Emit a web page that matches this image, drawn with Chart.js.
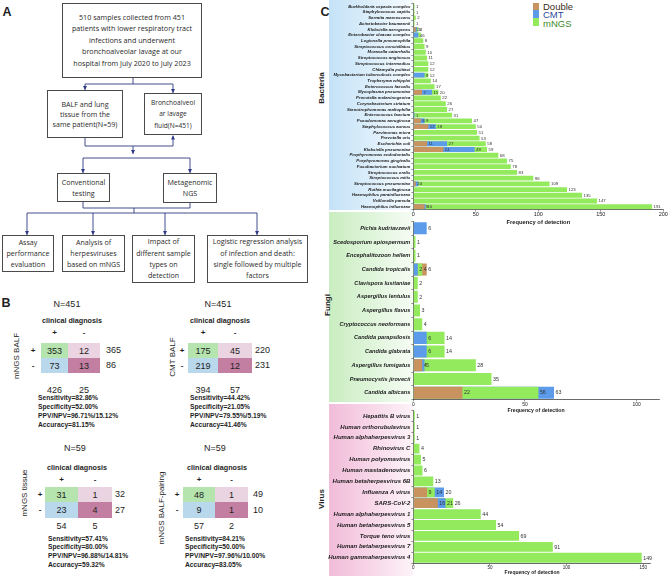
<!DOCTYPE html>
<html><head><meta charset="utf-8">
<script src="https://cdn.jsdelivr.net/npm/chart.js@4.4.1/dist/chart.umd.min.js"></script>
<style>
html,body{margin:0;padding:0;background:#fff}
body{width:669px;height:576px;position:relative;overflow:hidden;font-family:"Liberation Sans",Arial,sans-serif;color:#1e1e1e}
.t{position:absolute;white-space:nowrap;transform:translate(-50%,-50%);line-height:1}
.l{position:absolute;white-space:nowrap;line-height:1}
.box{position:absolute;box-sizing:border-box;border:1px solid #4a4a4a;display:flex;align-items:center;justify-content:center;text-align:center;font-family:"Open Sans",sans-serif;color:#2a2a2a;background:#fff}
.cell{position:absolute;display:flex;align-items:center;justify-content:center;font-size:9px;color:#222}
.grad{position:absolute}
canvas{position:absolute}
.lg{position:absolute;width:6px;height:7.6px}
.lgt{position:absolute;font-size:9.5px;line-height:1;white-space:nowrap}
</style></head><body>

<div class="grad" style="left:329px;top:0;width:84px;height:210px;background:linear-gradient(to right,#c4e2f7,#e4f2fc 65%,#f8fcff)"></div>
<div class="grad" style="left:329px;top:212px;width:84px;height:190px;background:linear-gradient(to right,#c9edc0,#e6f7e2 65%,#f6fcf4)"></div>
<div class="grad" style="left:329px;top:404px;width:84px;height:172px;background:linear-gradient(to right,#f1bcd9,#f9dfed 65%,#fdf3f8)"></div>

<svg width="335" height="300" style="position:absolute;left:0;top:0">
<defs><marker id="ar" markerWidth="4" markerHeight="4" refX="4" refY="2" orient="auto" markerUnits="userSpaceOnUse"><path d="M0,0 L4,2 L0,4 z" fill="#2f3b85"/></marker></defs>
<g stroke="#2f3b85" stroke-width="0.9" fill="none">
<path d="M133,78 V84 M85,84 H173"/>
<path d="M85,84 V90" marker-end="url(#ar)"/>
<path d="M173,84 V93" marker-end="url(#ar)"/>
<path d="M85,138 V146 H173"/>
<path d="M173,146 V135.5" marker-end="url(#ar)"/>
<path d="M133,146 V154" marker-end="url(#ar)"/>
<path d="M83,158 H190"/>
<path d="M83,158 V173" marker-end="url(#ar)"/>
<path d="M190,158 V173" marker-end="url(#ar)"/>
<path d="M83,202 V208 H190 M190,203 V208 M134,208 V213 M27,213 H257"/>
<path d="M27,213 V235" marker-end="url(#ar)"/>
<path d="M93,213 V235" marker-end="url(#ar)"/>
<path d="M165,213 V235" marker-end="url(#ar)"/>
<path d="M257,213 V235" marker-end="url(#ar)"/>
</g></svg>

<div class="t" style="left:7px;top:12px;font-weight:bold;font-size:12.5px">A</div>
<div class="t" style="left:6px;top:303px;font-weight:bold;font-size:12.5px">B</div>
<div class="t" style="left:325px;top:12px;font-weight:bold;font-size:12.5px">C</div>

<div class="t" style="left:322px;top:88px;font-weight:bold;font-size:8px;transform:translate(-50%,-50%) rotate(-90deg)">Bacteria</div>
<div class="t" style="left:328px;top:305px;font-weight:bold;font-size:8px;transform:translate(-50%,-50%) rotate(-90deg)">Fungi</div>
<div class="t" style="left:322px;top:499px;font-weight:bold;font-size:8px;transform:translate(-50%,-50%) rotate(-90deg)">Virus</div>

<div class="lg" style="left:533px;top:2.6px;background:#c8935f"></div>
<div class="lg" style="left:533px;top:10.4px;background:#5b9bea"></div>
<div class="lg" style="left:533px;top:18.4px;background:#93ea5c"></div>
<div class="lgt" style="left:543px;top:1.8px;color:#3a2e22">Double</div>
<div class="lgt" style="left:543px;top:10px;color:#2b4a9c">CMT</div>
<div class="lgt" style="left:543px;top:18.6px;color:#3c8a2e">mNGS</div>

<canvas id="cBac" width="351" height="226" style="left:318px;top:0px;width:351px;height:226px"></canvas>
<canvas id="cFun" width="351" height="202" style="left:318px;top:212px;width:351px;height:202px"></canvas>
<canvas id="cVir" width="351" height="171" style="left:318px;top:405px;width:351px;height:171px"></canvas>

<script>
// ---------- Panel C data ----------
const bacteriaLabels = ['Burkholderia cepacia complex','Staphylococcus capitis','Serratia marcescens','Acinetobacter baumannii','Klebsiella aerogenes','Enterobacter cloacae complex','Legionella pneumophila','Streptococcus constellatus','Moraxella catarrhalis','Streptococcus anginosus','Streptococcus intermedius','Chlamydia psittaci','Mycobacterium tuberculosis complex','Tropheryma whipplei','Enterococcus faecalis','Mycoplasma pneumoniae','Prevotella melaninogenica','Corynebacterium striatum','Stenotrophomonas maltophilia','Enterococcus faecium','Pseudomonas aeruginosa','Staphylococcus aureus','Parvimonas micra','Prevotella oris','Escherichia coli','Klebsiella pneumoniae','Porphyromonas endodontalis','Porphyromonas gingivalis','Fusobacterium nucleatum','Streptococcus oralis','Streptococcus mitis','Streptococcus pneumoniae','Rothia mucilaginosa','Haemophilus parainfluenzae','Veillonella parvula','Haemophilus influenzae'];
const bacteriaDouble = [0,0,0,0,2,0,0,0,0,0,0,0,0,0,0,7,0,0,0,0,6,12,0,0,11,24,0,0,0,0,0,2,0,0,0,9];
const bacteriaCMT    = [0,0,0,0,3,4,0,0,0,0,0,0,9,0,0,15,0,0,0,1,9,18,0,0,27,49,0,0,0,0,0,4,0,0,0,10];
const bacteriaMNGS   = [1,1,2,1,4,6,8,9,10,11,12,12,12,14,17,20,22,26,27,31,47,50,51,53,58,59,68,75,78,83,96,109,123,135,147,191];

const fungiLabels = ['Pichia kudriavzevii','Scedosporium apiospermum','Encephalitozoon hellem','Candida tropicalis','Clavispora lusitaniae','Aspergillus lentulus','Aspergillus flavus','Cryptococcus neoformans','Candida parapsilosis','Candida glabrata','Aspergillus fumigatus','Pneumocystis jirovecii','Candida albicans'];
const fungiDouble = [0,0,0,6,0,0,0,0,0,0,4,0,22];
const fungiCMT    = [6,0,0,2,0,0,0,0,6,6,5,0,63];
const fungiMNGS   = [0,1,1,4,2,2,3,4,14,14,28,35,56];

const virusLabels = ['Hepatitis B virus','Human orthorubulavirus','Human alphaherpesvirus 3','Rhinovirus C','Human polyomavirus','Human mastadenovirus','Human betaherpesvirus 6B','Influenza A virus','SARS-CoV-2','Human alphaherpesvirus 1','Human betaherpesvirus 5','Torque teno virus','Human betaherpesvirus 7','Human gammaherpesvirus 4'];
const virusDouble = [0,0,0,0,0,0,0,9,16,0,0,0,0,0];
const virusCMT    = [0,0,0,0,0,0,0,20,21,0,0,0,0,0];
const virusMNGS   = [1,1,1,4,5,6,13,14,26,44,54,69,91,149];

const bacteriaTicks = [0,50,100,150,200];
const fungiTicks = [0,50,100];
const virusTicks = [0,50,100,150];

// ---------- Panel A / B data ----------
const matrixTitles = ['N=451','N=451','N=59','N=59'];
const matrixRowTitles = ['mNGS BALF','CMT BALF','mNGS tissue','mNGS BALF-pairing'];
const matrixCells = [[353,12,73,13],[175,45,219,12],[31,1,23,4],[48,1,9,1]];
const matrixRowTotals = [[365,86],[220,231],[32,27],[49,10]];
const matrixColTotals = [[426,25],[394,57],[54,5],[57,2]];
const matrixStats = [
 ['Sensitivity=82.86%','Specificity=52.00%','PPV/NPV=96.71%/15.12%','Accuracy=81.15%'],
 ['Sensitivity=44.42%','Specificity=21.05%','PPV/NPV=79.55%/5.19%','Accuracy=41.46%'],
 ['Sensitivity=57.41%','Specificity=80.00%','PPV/NPV=96.88%/14.81%','Accuracy=59.32%'],
 ['Sensitivity=84.21%','Specificity=50.00%','PPV/NPV=97.96%/10.00%','Accuracy=83.05%']];

const flowBoxes = [
 {x:62,y:3,w:140,h:75,fs:7.2,lh:11.4,t:'510 samples collected from 451<br>patients with lower respiratory tract<br>infections and underwent<br>bronchoalveolar lavage at our<br>hospital from July 2020 to July 2023'},
 {x:47,y:90,w:76,h:48,fs:7.1,lh:10.2,t:'BALF and lung<br>tissue from the<br>same patient(N=59)'},
 {x:144,y:93,w:58,h:42,fs:6.6,lh:11.5,t:'Bronchoalveol<br>ar lavage<br>fluid(N=451)'},
 {x:57,y:173,w:53,h:29,fs:7.1,lh:11,t:'Conventional<br>testing'},
 {x:163,y:173,w:54,h:30,fs:7.1,lh:11,t:'Metagenomic<br>NGS'},
 {x:2,y:235,w:52,h:37,fs:7.1,lh:11,t:'Assay<br>performance<br>evaluation'},
 {x:62,y:235,w:63,h:37,fs:7.1,lh:11,t:'Analysis of<br>herpesviruses<br>based on mNGS'},
 {x:132,y:235,w:63,h:48,fs:7.1,lh:11.3,t:'Impact of<br>different sample<br>types on<br>detection'},
 {x:207,y:235,w:101,h:48,fs:7.1,lh:11.3,t:'Logistic regression analysis<br>of infection and death:<br>single followed by multiple<br>factors'}
];

function el(cls, style, html){const d=document.createElement('div');d.className=cls;d.setAttribute('style',style);d.innerHTML=html;document.body.appendChild(d);return d;}

flowBoxes.forEach(b=>el('box',`left:${b.x}px;top:${b.y}px;width:${b.w}px;height:${b.h}px;font-size:${b.fs}px;line-height:${b.lh}px`,b.t));

const mGeom = [
 {tx:67,ty:304,cdx:72,cdy:321,chy:333,cx:[41,68,100],ry:[343,358,373],rl:33,tot:106,cty:390,sx:38,sy:398,sd:9.3,vx:17,vy:356},
 {tx:218,ty:304,cdx:220,cdy:321,chy:333,cx:[188,218,252],ry:[343,358,373],rl:182,tot:255,cty:390,sx:190,sy:398,sd:9.3,vx:173,vy:357},
 {tx:75,ty:448,cdx:77,cdy:468,chy:480,cx:[45,78,112],ry:[487,502,518],rl:40,tot:115,cty:526,sx:48,sy:539,sd:8.8,vx:25,vy:493},
 {tx:215,ty:448,cdx:217,cdy:468,chy:480,cx:[183,215,248],ry:[487,502,518],rl:177,tot:253,cty:526,sx:185,sy:539,sd:8.8,vx:162,vy:508}
];
const cellColors = ['#b5e4ae','#ead4e1','#b9d8ec','#c37fa2'];
mGeom.forEach((g,m)=>{
  el('t',`left:${g.tx}px;top:${g.ty}px;font-size:9px`,matrixTitles[m]);
  el('t',`left:${g.cdx}px;top:${g.cdy}px;font-size:7.2px;font-weight:bold`,'clinical diagnosis');
  const c0=(g.cx[0]+g.cx[1])/2, c1=(g.cx[1]+g.cx[2])/2;
  el('t',`left:${c0}px;top:${g.chy}px;font-size:8px;font-weight:bold`,'+');
  el('t',`left:${c1}px;top:${g.chy}px;font-size:8px;font-weight:bold`,'-');
  el('t',`left:${g.rl}px;top:${(g.ry[0]+g.ry[1])/2}px;font-size:8px;font-weight:bold`,'+');
  el('t',`left:${g.rl}px;top:${(g.ry[1]+g.ry[2])/2}px;font-size:8px;font-weight:bold`,'-');
  for(let r=0;r<2;r++)for(let c=0;c<2;c++){
    const k=r*2+c;
    el('cell',`left:${g.cx[c]}px;top:${g.ry[r]}px;width:${g.cx[c+1]-g.cx[c]}px;height:${g.ry[r+1]-g.ry[r]}px;background:${cellColors[k]}`,String(matrixCells[m][k]));
  }
  matrixRowTotals[m].forEach((v,r)=>el('l',`left:${g.tot}px;top:${(g.ry[r]+g.ry[r+1])/2-4.5}px;font-size:9px`,String(v)));
  el('t',`left:${c0}px;top:${g.cty}px;font-size:9px`,String(matrixColTotals[m][0]));
  el('t',`left:${c1}px;top:${g.cty}px;font-size:9px`,String(matrixColTotals[m][1]));
  matrixStats[m].forEach((s,i)=>el('l',`left:${g.sx}px;top:${g.sy+i*g.sd-3.5}px;font-size:6.7px;font-weight:bold`,s));
  el('t',`left:${g.vx}px;top:${g.vy}px;font-size:8px;transform:translate(-50%,-50%) rotate(-90deg)`,matrixRowTitles[m]);
});

// ---------- Panel C charts ----------
const COL = {double:'#c8935f', cmt:'#5b9bea', mngs:'#93ea5c'};
function layered(dbl,cmt,mngs){
  const ds=[0,1,2].map(()=>({data:[],backgroundColor:[]}));
  for(let i=0;i<mngs.length;i++){
    const items=[{v:dbl[i],c:COL.double},{v:cmt[i],c:COL.cmt},{v:mngs[i],c:COL.mngs}].sort((a,b)=>a.v-b.v);
    items.forEach((it,k)=>{ds[k].data.push(it.v);ds[k].backgroundColor.push(it.c);});
  }
  return ds;
}
const valueLabels = {
  id:'valueLabels',
  afterDatasetsDraw(chart,args,opts){
    const ctx=chart.ctx;ctx.save();
    ctx.font=`${opts.size}px "Liberation Sans", Arial, sans-serif`;
    ctx.fillStyle='#333';ctx.textBaseline='middle';ctx.textAlign='left';
    chart.data.datasets.forEach((ds,di)=>{
      chart.getDatasetMeta(di).data.forEach((bar,i)=>{
        const v=ds.data[i]; if(!v) return;
        ctx.fillText(String(v), bar.x+1.5, bar.y+0.3);
      });
    });
    ctx.restore();
  }
};
const FAM='"Liberation Sans", Arial, sans-serif';
function makeChart(id,labels,dbl,cmt,mngs,o){
  const datasets=layered(dbl,cmt,mngs).map(d=>Object.assign(d,{grouped:false,barPercentage:o.bp,categoryPercentage:1,borderWidth:0}));
  return new Chart(document.getElementById(id),{
    type:'bar',
    data:{labels,datasets},
    options:{
      indexAxis:'y',responsive:false,animation:false,
      layout:{padding:{top:o.pt,right:o.pr,left:0,bottom:0}},
      plugins:{legend:{display:false},tooltip:{enabled:false},valueLabels:{size:o.lf}},
      scales:{
        y:{
          grid:{display:true,drawOnChartArea:false,drawTicks:true,tickLength:2,color:'#555',lineWidth:0.6},
          border:{display:true,color:'#444',width:0.8},
          ticks:{autoSkip:false,padding:1,color:'#1a1a1a',font:{family:FAM,size:o.yf,style:'italic',weight:'bold'}},
          afterFit:s=>{s.width=o.yw;}
        },
        x:{
          min:0,max:o.max,
          afterBuildTicks:s=>{s.ticks=o.ticks.map(v=>({value:v}));},
          grid:{display:true,drawOnChartArea:false,drawTicks:true,tickLength:2,color:'#555',lineWidth:0.6},
          border:{display:true,color:'#444',width:0.8},
          ticks:{autoSkip:false,maxRotation:0,padding:0,color:'#222',font:{family:FAM,size:o.tf}},
          title:{display:true,text:'Frequency of detection',color:'#1a1a1a',padding:0,font:{family:FAM,size:o.ttf,weight:'bold'}},
          afterFit:s=>{s.height=o.xh;}
        }
      }
    },
    plugins:[valueLabels]
  });
}
makeChart('cBac',bacteriaLabels,bacteriaDouble,bacteriaCMT,bacteriaMNGS,{pt:2.8,pr:5.7,yw:95.3,xh:16.4,max:200,ticks:bacteriaTicks,yf:4.3,lf:4.3,tf:5.5,ttf:5.8,bp:0.85});
makeChart('cFun',fungiLabels,fungiDouble,fungiCMT,fungiMNGS,{pt:9.5,pr:10,yw:95.3,xh:14.5,max:110,ticks:fungiTicks,yf:5.6,lf:5.3,tf:5,ttf:5.2,bp:0.88});
makeChart('cVir',virusLabels,virusDouble,virusCMT,virusMNGS,{pt:5.5,pr:18.1,yw:95.3,xh:12.8,max:155,ticks:virusTicks,yf:6,lf:5.3,tf:4.5,ttf:5,bp:0.9});
</script>
</body></html>
